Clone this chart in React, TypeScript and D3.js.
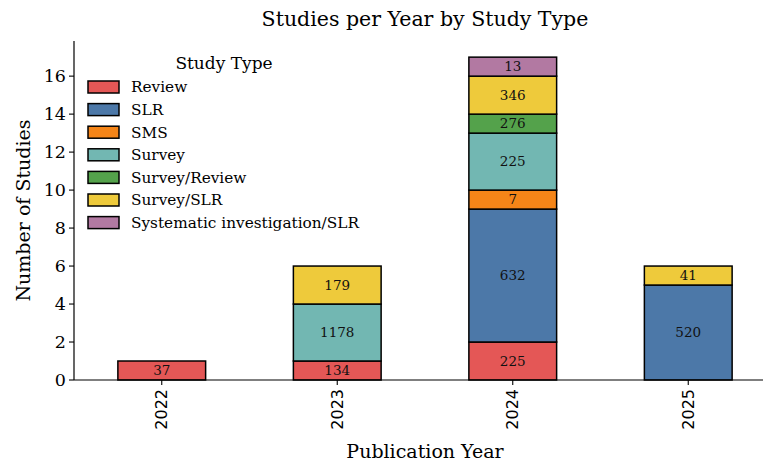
import { useRef, useEffect } from 'react'
import * as d3 from 'd3'

const years = ['2022', '2023', '2024', '2025']
const studyTypes = ['Review', 'SLR', 'SMS', 'Survey', 'Survey/Review', 'Survey/SLR', 'Systematic investigation/SLR']
const colors = ['#E45756', '#4C78A8', '#F58518', '#72B7B2', '#54A24B', '#EECA3B', '#B279A2']

// study counts per type, one value per year
const review = [1, 1, 2, 0]
const slr = [0, 0, 7, 5]
const sms = [0, 0, 1, 0]
const survey = [0, 3, 3, 0]
const surveyReview = [0, 0, 1, 0]
const surveySlr = [0, 2, 2, 1]
const systematic = [0, 0, 1, 0]

// numbers printed inside each segment
const reviewLabels = [37, 134, 225, 0]
const slrLabels = [0, 0, 632, 520]
const smsLabels = [0, 0, 7, 0]
const surveyLabels = [0, 1178, 225, 0]
const surveyReviewLabels = [0, 0, 276, 0]
const surveySlrLabels = [0, 179, 346, 41]
const systematicLabels = [0, 0, 13, 0]

const yTicks = [0, 2, 4, 6, 8, 10, 12, 14, 16]

const W = 763
const H = 462
const serif = '"DejaVu Serif", serif'
const sans = '"DejaVu Sans", sans-serif'

export default function App() {
  const svgRef = useRef<SVGSVGElement>(null)

  useEffect(() => {
    if (!svgRef.current) return
    const svg = d3.select(svgRef.current)
    svg.selectAll('*').remove()

    const counts = [review, slr, sms, survey, surveyReview, surveySlr, systematic]
    const labels = [reviewLabels, slrLabels, smsLabels, surveyLabels, surveyReviewLabels, surveySlrLabels, systematicLabels]

    const rows = years.map((yr, i) => {
      const r: any = { year: yr }
      studyTypes.forEach((t, k) => { r[t] = counts[k][i] })
      return r
    })
    const stacked = d3.stack<any>().keys(studyTypes)(rows)

    const left = 74, right = 776, top = 41, bottom = 380
    const x = d3.scaleLinear().domain([-0.5, 3.5]).range([left, right])
    const y = d3.scaleLinear().domain([0, 17.85]).range([bottom, top])
    const bw = (x(0.25) - x(-0.25))

    const g = svg.append('g')

    stacked.forEach((layer, k) => {
      layer.forEach((d, i) => {
        if (d[1] - d[0] <= 0) return
        g.append('rect')
          .attr('x', x(i) - bw / 2)
          .attr('y', y(d[1]))
          .attr('width', bw)
          .attr('height', y(d[0]) - y(d[1]))
          .attr('fill', colors[k])
          .attr('stroke', '#000')
          .attr('stroke-width', 1.5)
        g.append('text')
          .attr('x', x(i))
          .attr('y', (y(d[0]) + y(d[1])) / 2)
          .attr('dy', '0.35em')
          .attr('text-anchor', 'middle')
          .attr('font-family', serif)
          .attr('font-size', 13.5)
          .attr('fill', '#111')
          .text(labels[k][i])
      })
    })

    // y axis
    g.append('line').attr('x1', left).attr('x2', left).attr('y1', top).attr('y2', bottom)
      .attr('stroke', '#000').attr('stroke-width', 1.2)
    yTicks.forEach(t => {
      g.append('line').attr('x1', left - 5).attr('x2', left).attr('y1', y(t)).attr('y2', y(t))
        .attr('stroke', '#000').attr('stroke-width', 1.1)
      g.append('text').attr('x', left - 8).attr('y', y(t)).attr('dy', '0.35em')
        .attr('text-anchor', 'end').attr('font-family', serif).attr('font-size', 17.5)
        .text(t)
    })

    // x axis
    g.append('line').attr('x1', left).attr('x2', W).attr('y1', bottom).attr('y2', bottom)
      .attr('stroke', '#000').attr('stroke-width', 1.2)
    years.forEach((yr, i) => {
      g.append('line').attr('x1', x(i)).attr('x2', x(i)).attr('y1', bottom).attr('y2', bottom + 5)
        .attr('stroke', '#000').attr('stroke-width', 1.1)
      g.append('text')
        .attr('transform', `translate(${x(i)},${bottom + 9}) rotate(-90)`)
        .attr('dy', '0.35em')
        .attr('text-anchor', 'end').attr('font-family', sans).attr('font-size', 16)
        .text(yr)
    })

    svg.append('text').attr('x', 425).attr('y', 458).attr('text-anchor', 'middle')
      .attr('font-family', serif).attr('font-size', 19).text('Publication Year')
    svg.append('text').attr('transform', `translate(30,${(top + bottom) / 2}) rotate(-90)`)
      .attr('text-anchor', 'middle').attr('font-family', serif).attr('font-size', 19)
      .text('Number of Studies')
    svg.append('text').attr('x', 425).attr('y', 26).attr('text-anchor', 'middle')
      .attr('font-family', serif).attr('font-size', 20.5).text('Studies per Year by Study Type')

    // legend
    const lg = svg.append('g')
    lg.append('text').attr('x', 224).attr('y', 69).attr('text-anchor', 'middle')
      .attr('font-family', serif).attr('font-size', 17).text('Study Type')
    studyTypes.forEach((t, k) => {
      const cy = 87 + k * 22.6
      lg.append('rect').attr('x', 88).attr('y', cy - 6).attr('width', 31).attr('height', 12)
        .attr('fill', colors[k]).attr('stroke', '#000').attr('stroke-width', 1.5)
      lg.append('text').attr('x', 131).attr('y', cy).attr('dy', '0.35em')
        .attr('font-family', serif).attr('font-size', 15.3).text(t)
    })
  }, [])

  return (
    <svg ref={svgRef} width={W} height={H}
      style={{ position: 'absolute', left: 0, top: 0, background: '#fff' }} />
  )
}
